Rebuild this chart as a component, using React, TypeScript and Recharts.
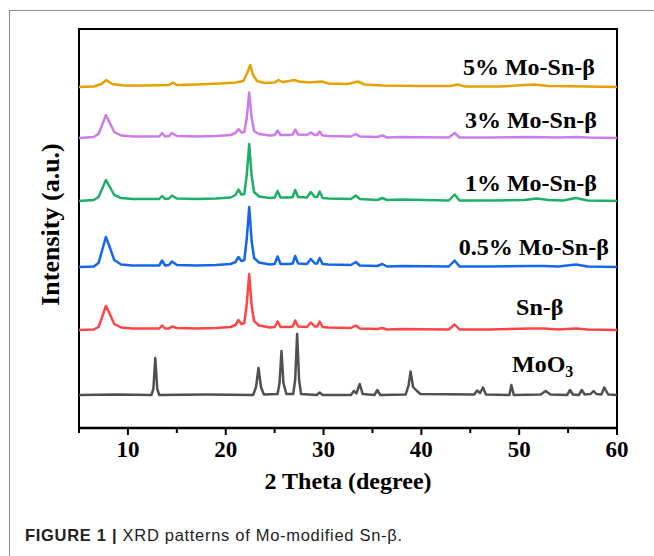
import { LineChart, Line, XAxis, YAxis, ReferenceArea, ReferenceDot } from "recharts";

// [2θ, intensity above the pattern's own baseline]
const moo3 = [
  [5, 0], [9, 0.5], [12.4, 0], [12.6, 6], [12.8, 37], [13.0, 6], [13.2, 0], [18, 0.5],
  [22.8, 0], [23.1, 8], [23.35, 27], [23.6, 8], [23.9, 0.5], [25.3, 1], [25.5, 12],
  [25.7, 44], [25.9, 12], [26.2, 1], [26.9, 1], [27.1, 15], [27.3, 61], [27.5, 15],
  [27.7, 1], [29.3, 0], [29.6, 2.5], [29.9, 0], [32.8, 0], [33.1, 4], [33.35, 1.5],
  [33.7, 11], [34.0, 1], [35.2, 0], [35.5, 5], [35.8, 0], [38.4, 0.5], [38.7, 10],
  [38.9, 23.5], [39.15, 8], [39.5, 4.5], [39.9, 1], [45.4, 0.5], [45.7, 4.5], [46.0, 2],
  [46.3, 7.5], [46.6, 0.5], [49.0, 0], [49.2, 10], [49.45, 0], [52.2, 0.5], [52.7, 4],
  [53.2, 0.5], [54.9, 0], [55.2, 5], [55.5, 0.5], [56.1, 0], [56.4, 5], [56.7, 0.5],
  [57.3, 1], [57.6, 4], [57.9, 1], [58.4, 0.5], [58.7, 7.5], [59.1, 0.5], [60, 0],
];

const snBeta = [
  [5, 0], [6.5, 0.5], [7.0, 3], [7.4, 14], [7.75, 24], [8.1, 17], [8.6, 6], [9.3, 2.5],
  [10.5, 1.5], [12, 1.5], [13.2, 1.5], [13.5, 4.5], [13.8, 1.5], [14.2, 1.5], [14.5, 3.5],
  [15, 2], [17, 1.5], [19, 2], [20.5, 3], [21.0, 5], [21.3, 10], [21.6, 6], [21.9, 7],
  [22.15, 26], [22.4, 56], [22.65, 24], [22.9, 9], [23.4, 4.5], [24.5, 2.5], [25.0, 3],
  [25.3, 8.5], [25.6, 3], [26.5, 3], [26.85, 3.5], [27.1, 9.5], [27.4, 3.5], [28.3, 3],
  [28.7, 7.5], [29.1, 3.5], [29.35, 3.5], [29.6, 8.5], [29.9, 3], [30.5, 2.5], [32.8, 2],
  [33.3, 4.5], [33.7, 1.5], [35.5, 1], [36.0, 2], [36.5, 0.5], [38, 1], [42.8, 0.5],
  [43.4, 5.5], [43.9, 0.5], [47, 0.5], [51, 1.5], [52.5, 1.5], [54, 0.5], [55.8, 1.5],
  [57, 0.5], [60, 0],
];

const mo05 = [
  [5, 0], [6.5, 0.5], [7.0, 4], [7.4, 18], [7.75, 30], [8.1, 21], [8.6, 7], [9.3, 2.5],
  [10.5, 1.5], [12, 1.5], [13.2, 1.5], [13.5, 6.5], [13.8, 1.5], [14.2, 2], [14.5, 5.5],
  [15, 2], [17, 1.5], [19, 2], [20.5, 3], [21.0, 5], [21.3, 10], [21.6, 6], [21.9, 7],
  [22.15, 28], [22.4, 60], [22.65, 26], [22.9, 9], [23.4, 4.5], [24.5, 2.5], [25.0, 3],
  [25.3, 10.5], [25.6, 3], [26.5, 3], [26.85, 3.5], [27.1, 11], [27.4, 3.5], [28.3, 3],
  [28.7, 8], [29.1, 3.5], [29.35, 3.5], [29.6, 9], [29.9, 3], [30.5, 2.5], [32.8, 2],
  [33.3, 5], [33.7, 1.5], [35.5, 1], [36.0, 3], [36.5, 0.5], [38, 1], [42.8, 0.5],
  [43.4, 6.5], [43.9, 0.5], [47, 0.5], [51, 1], [52.5, 1], [54, 0.5], [55.8, 2.5],
  [57, 0.5], [60, 0],
];

const mo1 = [
  [5, 0], [6.5, 1], [7.0, 4], [7.4, 13], [7.75, 21], [8.1, 15], [8.6, 6], [9.3, 3],
  [10.5, 2], [12, 2], [13.2, 2], [13.5, 5], [13.8, 2], [14.2, 2.5], [14.5, 5.5],
  [15, 2.5], [17, 2], [19, 2.5], [20.5, 3.5], [21.0, 6], [21.3, 11.5], [21.6, 6.5],
  [21.9, 7], [22.15, 26], [22.4, 57], [22.65, 25], [22.9, 9], [23.4, 4.5], [24.5, 3],
  [25.0, 3.5], [25.3, 10], [25.6, 3.5], [26.5, 3.5], [26.85, 4], [27.1, 11], [27.4, 4],
  [28.3, 3.5], [28.7, 9], [29.1, 4], [29.35, 4], [29.6, 9.5], [29.9, 3], [30.5, 2.5],
  [32.8, 2], [33.3, 5.5], [33.7, 2], [35.5, 1], [36.0, 3], [36.5, 1], [38, 1.5],
  [42.8, 0.5], [43.4, 6.5], [43.9, 0.5], [47, 0.5], [50.5, 1], [51.8, 2.5], [53, 1],
  [54.5, 0.5], [55.8, 3], [57, 0.5], [60, 0],
];

const mo3 = [
  [5, 0], [6.5, 1], [7.0, 4], [7.4, 14], [7.75, 23], [8.1, 16], [8.6, 6], [9.3, 2.5],
  [10.5, 1.5], [12, 1.5], [13.2, 1.5], [13.5, 5], [13.8, 1.5], [14.2, 2], [14.5, 5],
  [15, 2], [17, 1.5], [19, 2], [20.5, 3], [21.0, 5], [21.3, 9], [21.6, 5.5], [21.9, 6],
  [22.15, 20], [22.4, 45.5], [22.65, 20], [22.9, 7], [23.4, 4], [24.5, 2.5], [25.0, 3],
  [25.3, 7.5], [25.6, 3], [26.5, 3], [26.85, 3.5], [27.1, 8.5], [27.4, 3.5], [28.3, 3],
  [28.7, 5.5], [29.1, 3], [29.35, 3], [29.6, 6.5], [29.9, 2.5], [30.5, 2], [32.8, 1.5],
  [33.3, 4], [33.7, 1.5], [35.5, 1], [36.0, 2.5], [36.5, 0.5], [38, 1], [42.8, 0.5],
  [43.4, 5], [43.9, 0.5], [47, 0.5], [51, 1], [54, 0.5], [55.8, 1], [57, 0.5], [60, 0],
];

const mo5 = [
  [5, 0], [6.5, 0.5], [7.3, 3], [7.8, 7], [8.4, 3], [9.5, 1.5], [12, 1.5], [14.2, 2],
  [14.6, 4.5], [15, 2], [17, 2.5], [19.5, 3.5], [21, 4.5], [21.8, 6], [22.2, 14],
  [22.5, 22], [22.8, 12], [23.2, 6], [24, 4], [25, 4.5], [25.4, 7], [25.8, 5], [26.5, 6],
  [27, 7], [27.5, 5.5], [28.5, 4.5], [29.8, 5.5], [30.5, 3.5], [32.5, 3], [33.5, 5.5],
  [34.2, 2.5], [36, 1.5], [40, 1], [43, 1], [43.7, 2.5], [44.5, 0.5], [48, 0.5],
  [51.5, 2.5], [53, 1], [57, 0.5], [60, 0],
];

const names = ["MoO3", "Sn-β", "0.5% Mo-Sn-β", "1% Mo-Sn-β", "3% Mo-Sn-β", "5% Mo-Sn-β"];
const patterns = [moo3, snBeta, mo05, mo1, mo3, mo5];
const offsets = [33, 98, 161, 227, 290, 341];
const colors = ["#505050", "#FF4545", "#1565EE", "#1DAF66", "#CC7BEA", "#E6A100"];
// where each name sits, in 2θ and intensity
const labelX = [52.4, 52.1, 51.5, 51.2, 51.2, 51.0];
const labelY = [63, 121, 181, 245, 308, 361];
const xTicks = [5, 10, 15, 20, 25, 30, 35, 40, 45, 50, 55, 60];

const serif = "'Liberation Serif', 'Times New Roman', serif";

const XTick = (props: any) => {
  const { x, y, payload } = props;
  const major = payload.value % 10 === 0;
  return (
    <g>
      <line x1={x} x2={x} y1={y} y2={y + (major ? 7 : 5)} stroke="#000" strokeWidth={2} />
      {major && (
        <text x={x} y={y + 29} textAnchor="middle" fontFamily={serif} fontWeight="bold" fontSize={23} fill="#000">
          {payload.value}
        </text>
      )}
    </g>
  );
};

const SeriesLabel = (text: string) => (props: any) => {
  const { viewBox } = props;
  const cx = viewBox.x + viewBox.width / 2;
  const cy = viewBox.y + viewBox.height / 2;
  if (text === "MoO3") {
    return (
      <text x={cx} y={cy + 7} textAnchor="middle" fontFamily={serif} fontWeight="bold" fontSize={24} fill="#000">
        MoO<tspan fontSize={16} dy={5}>3</tspan>
      </text>
    );
  }
  return (
    <text x={cx} y={cy + 8} textAnchor="middle" fontFamily={serif} fontWeight="bold" fontSize={24} fill="#000">
      {text}
    </text>
  );
};

const YTitle = (props: any) => {
  const { viewBox } = props;
  const x = 50;
  const y = viewBox.y + viewBox.height / 2 - 4;
  return (
    <text x={x} y={y} transform={`rotate(-90, ${x}, ${y})`} textAnchor="middle" dominantBaseline="central"
      fontFamily={serif} fontWeight="bold" fontSize={26} fill="#000">
      Intensity (a.u.)
    </text>
  );
};

const XTitle = (props: any) => {
  const { viewBox } = props;
  return (
    <text x={viewBox.x + viewBox.width / 2} y={viewBox.y + 61} textAnchor="middle"
      fontFamily={serif} fontWeight="bold" fontSize={24} fill="#000">
      2 Theta (degree)
    </text>
  );
};

export default function App() {
  return (
    <div style={{ position: "absolute", left: 0, top: 0, width: 654, height: 556, overflow: "hidden", background: "#fff" }}>
      <div style={{ position: "absolute", left: 9, top: 10, width: 700, height: 600, borderTop: "1.5px solid #8a8a8a", borderLeft: "1.5px solid #8a8a8a" }} />
      <div style={{ position: "absolute", left: 0, top: 0 }}>
        <LineChart width={654} height={556} margin={{ top: 29, right: 37, bottom: 58, left: 9 }}>
          <XAxis
            dataKey="x"
            type="number"
            domain={[5, 60]}
            ticks={xTicks}
            interval={0}
            height={70}
            tickSize={0}
            tickMargin={0}
            tickLine={false}
            tick={<XTick />}
            axisLine={{ stroke: "#000", strokeWidth: 2.5 }}
            allowDataOverflow
            label={<XTitle />}
          />
          <YAxis
            type="number"
            domain={[0, 399]}
            width={70}
            tick={false}
            axisLine={false}
            tickLine={false}
            allowDataOverflow
            label={<YTitle />}
          />
          <ReferenceArea x1={5} x2={60} y1={0} y2={399} fill="none" stroke="#000" strokeWidth={2} ifOverflow="visible" />
          {patterns.map((pts, i) => (
            <Line
              key={names[i]}
              data={pts.map(([x, v]) => ({ x, y: v + offsets[i] }))}
              dataKey="y"
              type="linear"
              dot={false}
              stroke={colors[i]}
              strokeWidth={2.5}
              strokeLinejoin="round"
              isAnimationActive={false}
            />
          ))}
          {names.map((n, i) => (
            <ReferenceDot key={n} x={labelX[i]} y={labelY[i]} r={1} fill="none" stroke="none" label={SeriesLabel(n)} />
          ))}
        </LineChart>
      </div>
      <div style={{ position: "absolute", left: 25, top: 526, fontFamily: "'Liberation Sans', Arial, sans-serif", fontSize: 16.5, letterSpacing: 0.7, color: "#222", whiteSpace: "nowrap" }}>
        <b>FIGURE 1 |</b> XRD patterns of Mo-modified Sn-β.
      </div>
    </div>
  );
}
